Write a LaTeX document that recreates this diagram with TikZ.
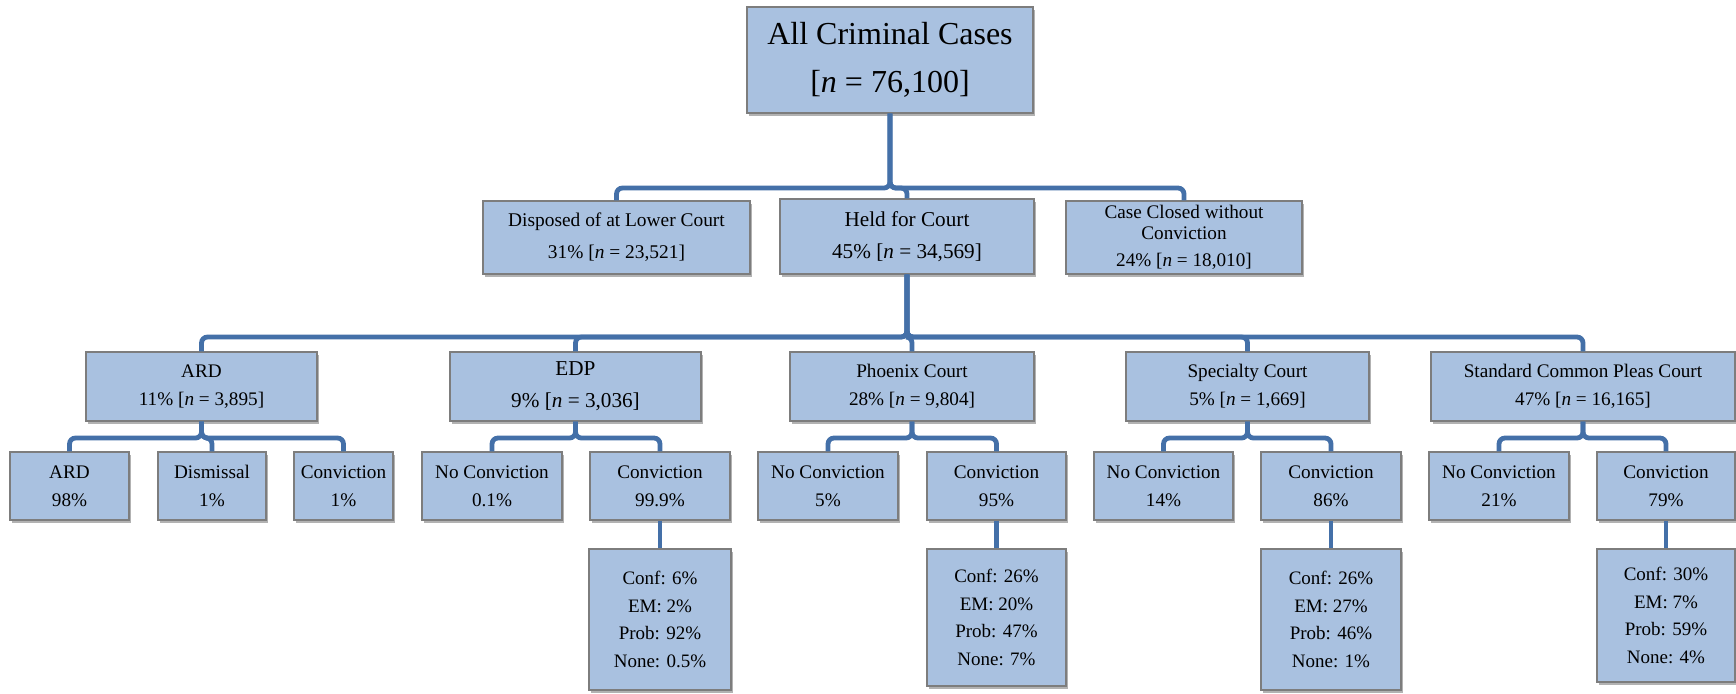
\documentclass[tikz,border=0pt]{standalone}
\usepackage{fontspec}
\setmainfont{Liberation Serif}
\usetikzlibrary{shadows}
\definecolor{bxmain}{RGB}{169,193,224}
\definecolor{bxlo}{RGB}{202,218,239}
\definecolor{bxline}{RGB}{125,125,125}
\definecolor{connc}{RGB}{68,112,168}
\pgfdeclareverticalshading{boxshade}{100bp}{color(0bp)=(bxlo); color(22bp)=(bxmain); color(100bp)=(bxmain)}
\tikzset{
  cbox/.style={draw=bxline, line width=0.7pt, shading=boxshade, align=center, inner sep=0pt,
    drop shadow={shadow xshift=1.2pt, shadow yshift=-1.6pt, fill=black, opacity=0.3},
    font=\fontsize{9.6}{14}\selectfont},
  bigtxt/.style={font=\fontsize{16}{24}\selectfont},
  midtxt/.style={font=\fontsize{10.6}{16}\selectfont},
  lvltxt/.style={font=\fontsize{9.7}{16}\selectfont},
  dettxt/.style={font=\fontsize{9.5}{13.75}\selectfont},
  conn/.style={draw=connc, line width=2.4pt, rounded corners=3pt},
}
\newcommand\cb[7][]{%
  \pgfmathsetmacro\cbw{(#5-#3)/2}%
  \pgfmathsetmacro\cbh{(#6-#4)/2}%
  \node[cbox,#1,minimum width=\cbw pt,minimum height=\cbh pt] (#2) at ({(#3+#5)/2},{(#4+#6)/2}) {#7};}
\begin{document}
\begin{tikzpicture}[x=0.5pt,y=-0.5pt]
\fill[white] (0,0) rectangle (1736,693);
\useasboundingbox (0,0) rectangle (1736,693);
\coordinate (b1) at (0,188);
\coordinate (b2) at (0,337);
\coordinate (b3) at (0,438);
% level 0
\cb[bigtxt]{root}{747}{7}{1033}{113}{All Criminal Cases\\{}[\textit{n} = 76,100]}
% level 1
\cb[lvltxt]{disp}{483}{201}{750}{274}{Disposed of at Lower Court\\31\% [\textit{n} = 23,521]}
\cb[midtxt]{held}{780}{199}{1034}{274}{Held for Court\\45\% [\textit{n} = 34,569]}
\cb[font=\fontsize{9.6}{10.5}\selectfont]{case}{1066}{201}{1302}{274}{Case Closed without\\Conviction\\[3pt]24\% [\textit{n} = 18,010]}
% level 2
\cb{ard}{86}{352}{317}{421}{ARD\\11\% [\textit{n} = 3,895]}
\cb[midtxt]{edp}{450}{352}{701}{421}{EDP\\9\% [\textit{n} = 3,036]}
\cb{phx}{790}{352}{1034}{421}{Phoenix Court\\28\% [\textit{n} = 9,804]}
\cb{spec}{1126}{352}{1369}{421}{Specialty Court\\5\% [\textit{n} = 1,669]}
\cb{std}{1431}{352}{1735}{421}{Standard Common Pleas Court\\47\% [\textit{n} = 16,165]}
% level 3
\cb{ardA}{10}{452}{129}{520}{ARD\\98\%}
\cb{ardD}{158}{452}{266}{520}{Dismissal\\1\%}
\cb{ardC}{294}{452}{393}{520}{Conviction\\1\%}
\cb{edpN}{422}{452}{562}{520}{No Conviction\\0.1\%}
\cb{edpC}{590}{452}{730}{520}{Conviction\\99.9\%}
\cb{phxN}{758}{452}{898}{520}{No Conviction\\5\%}
\cb{phxC}{927}{452}{1066}{520}{Conviction\\95\%}
\cb{specN}{1094}{452}{1233}{520}{No Conviction\\14\%}
\cb{specC}{1261}{452}{1401}{520}{Conviction\\86\%}
\cb{stdN}{1429}{452}{1569}{520}{No Conviction\\21\%}
\cb{stdC}{1597}{452}{1735}{520}{Conviction\\79\%}
% level 4
\cb[dettxt]{edpD}{589}{549}{731}{690}{Conf: 6\%\\EM: 2\%\\Prob: 92\%\\None: 0.5\%}
\cb[dettxt]{phxD}{927}{549}{1066}{686}{Conf: 26\%\\EM: 20\%\\Prob: 47\%\\None: 7\%}
\cb[dettxt]{specD}{1261}{549}{1401}{690}{Conf: 26\%\\EM: 27\%\\Prob: 46\%\\None: 1\%}
\cb[dettxt]{stdD}{1597}{549}{1735}{682}{Conf: 30\%\\EM: 7\%\\Prob: 59\%\\None: 4\%}
% connectors
\foreach \c in {disp,held,case}{\draw[conn] (root.south) -- (root.south |- b1) -| (\c.north);}
\foreach \c in {ard,edp,phx,spec,std}{\draw[conn] (held.south) -- (held.south |- b2) -| (\c.north);}
\foreach \c in {ardA,ardD,ardC}{\draw[conn] (ard.south) -- (ard.south |- b3) -| (\c.north);}
\foreach \c in {edpN,edpC}{\draw[conn] (edp.south) -- (edp.south |- b3) -| (\c.north);}
\foreach \c in {phxN,phxC}{\draw[conn] (phx.south) -- (phx.south |- b3) -| (\c.north);}
\foreach \c in {specN,specC}{\draw[conn] (spec.south) -- (spec.south |- b3) -| (\c.north);}
\foreach \c in {stdN,stdC}{\draw[conn] (std.south) -- (std.south |- b3) -| (\c.north);}
\draw[conn] (edpC.south) -- (edpD.north);
\draw[conn] (phxC.south) -- (phxD.north);
\draw[conn] (specC.south) -- (specD.north);
\draw[conn] (stdC.south) -- (stdD.north);
\end{tikzpicture}
\end{document}
